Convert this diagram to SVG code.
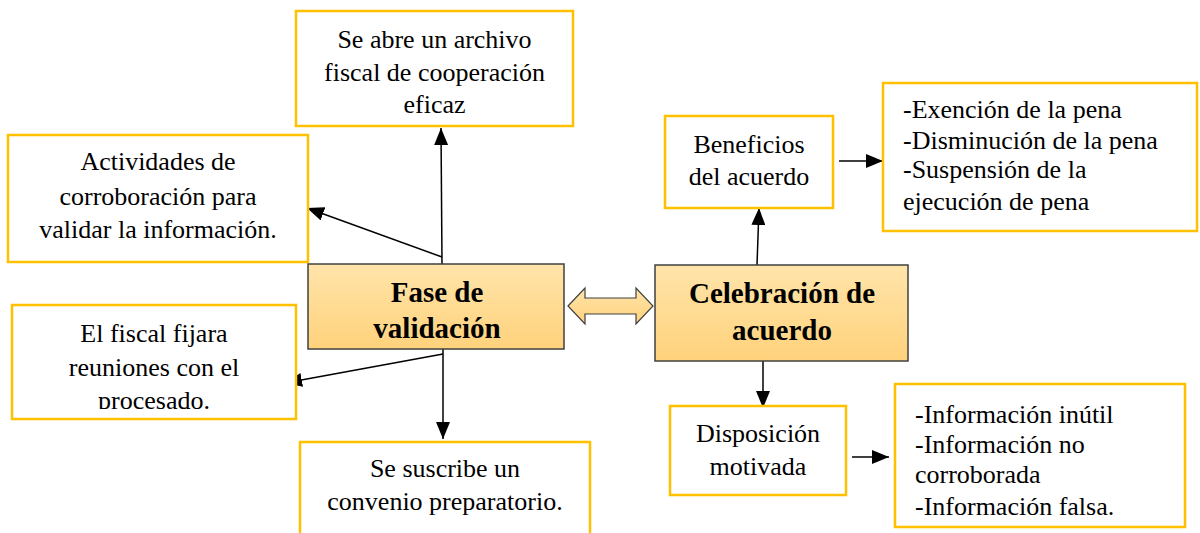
<svg xmlns="http://www.w3.org/2000/svg" width="1200" height="533" viewBox="0 0 1200 533">
<style>
.box{fill:#fff;stroke:#FFC000;stroke-width:2.5}
.main{stroke:#404040;stroke-width:1.5}
.t{font-family:"Liberation Serif","Times New Roman",serif;font-size:26px;fill:#000}
.c{text-anchor:middle}
.b{font-family:"Liberation Serif","Times New Roman",serif;font-size:29px;font-weight:bold;text-anchor:middle;fill:#000}
.ln{stroke:#000;stroke-width:1.5;fill:none}
</style>
<defs>
<linearGradient id="g" x1="0" y1="0" x2="0" y2="1">
<stop offset="0" stop-color="#FFE4AA"/>
<stop offset="1" stop-color="#FFD27C"/>
</linearGradient>
<marker id="ah" markerUnits="userSpaceOnUse" markerWidth="18" markerHeight="14" refX="17" refY="7" orient="auto">
<path d="M0,0 L17,7 L0,14 Z" fill="#000"/>
</marker>
<clipPath id="clipFiscal"><rect x="12" y="305" width="284" height="104"/></clipPath>
</defs>

<g id="connectors">
<line class="ln" x1="442" y1="264" x2="441" y2="128" marker-end="url(#ah)"/>
<line class="ln" x1="442" y1="257" x2="307" y2="208" marker-end="url(#ah)"/>
<line class="ln" x1="443" y1="349" x2="443" y2="439" marker-end="url(#ah)"/>
<line class="ln" x1="443" y1="354" x2="285" y2="383" marker-end="url(#ah)"/>
<line class="ln" x1="757" y1="265" x2="759" y2="208" marker-end="url(#ah)"/>
<line class="ln" x1="839" y1="161" x2="883" y2="161" marker-end="url(#ah)"/>
<line class="ln" x1="763" y1="361" x2="763" y2="408" marker-end="url(#ah)"/>
<line class="ln" x1="852" y1="457" x2="889" y2="457" marker-end="url(#ah)"/>
<polygon id="doubleArrow" points="568,306 585,288 585,298 636,298 636,288 653,306 636,324 636,314 585,314 585,324" fill="url(#g)" stroke="#404040" stroke-width="1.2"/>
</g>

<g id="archivo">
<rect class="box" x="296" y="11" width="277" height="115"/>
<text class="t c" x="434.5" y="48">Se abre un archivo</text>
<text class="t c" x="434.5" y="81">fiscal de cooperación</text>
<text class="t c" x="434.5" y="113">eficaz</text>
</g>

<g id="actividades">
<rect class="box" x="8" y="135" width="300" height="127"/>
<text class="t c" x="158" y="170">Actividades de</text>
<text class="t c" x="158" y="205">corroboración para</text>
<text class="t c" x="158" y="238">validar la información.</text>
</g>

<g id="fiscal">
<rect class="box" x="12" y="305" width="284" height="114"/>
<g clip-path="url(#clipFiscal)">
<text class="t c" x="154" y="342">El fiscal fijara</text>
<text class="t c" x="154" y="376">reuniones con el</text>
<text class="t c" x="154" y="409">procesado.</text>
</g>
</g>

<g id="suscribe">
<rect class="box" x="300" y="442" width="290" height="100"/>
<text class="t c" x="445" y="477">Se suscribe un</text>
<text class="t c" x="445" y="510">convenio preparatorio.</text>
</g>

<g id="fase">
<rect class="main" x="308" y="264" width="256" height="85" fill="url(#g)"/>
<text class="b" x="437" y="302">Fase de</text>
<text class="b" x="437" y="338">validación</text>
</g>

<g id="celebracion">
<rect class="main" x="655" y="265" width="253" height="96" fill="url(#g)"/>
<text class="b" x="782" y="303">Celebración de</text>
<text class="b" x="782" y="340">acuerdo</text>
</g>

<g id="beneficios">
<rect class="box" x="665" y="116" width="168" height="92"/>
<text class="t c" x="749" y="153">Beneficios</text>
<text class="t c" x="749" y="185">del acuerdo</text>
</g>

<g id="listaBeneficios">
<rect class="box" x="883" y="83" width="314" height="148"/>
<text class="t" x="903" y="118">-Exención de la pena</text>
<text class="t" x="903" y="149">-Disminución de la pena</text>
<text class="t" x="903" y="178">-Suspensión de la</text>
<text class="t" x="903" y="210">ejecución de pena</text>
</g>

<g id="disposicion">
<rect class="box" x="670" y="406" width="176" height="89"/>
<text class="t c" x="758" y="442">Disposición</text>
<text class="t c" x="758" y="475">motivada</text>
</g>

<g id="listaInformacion">
<rect class="box" x="895" y="384" width="290" height="143"/>
<text class="t" x="915" y="423">-Información inútil</text>
<text class="t" x="915" y="453">-Información no</text>
<text class="t" x="915" y="483">corroborada</text>
<text class="t" x="915" y="515">-Información falsa.</text>
</g>
</svg>
